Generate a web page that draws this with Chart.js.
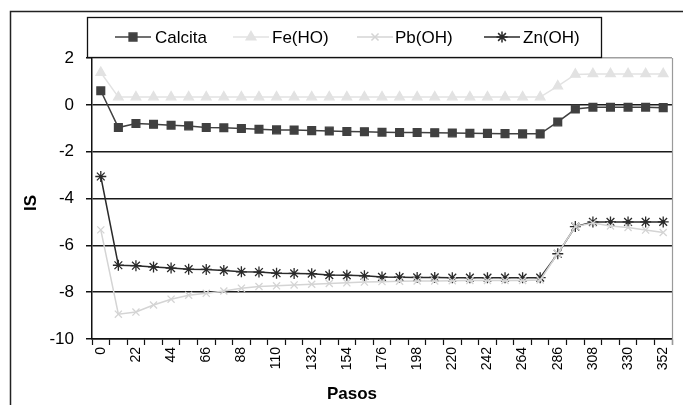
<!DOCTYPE html>
<html>
<head>
<meta charset="utf-8">
<script src="https://cdn.jsdelivr.net/npm/chart.js@4.4.0/dist/chart.umd.min.js"></script>
<style>
  html, body { margin: 0; padding: 0; background: #fff; }
  #isChart { display: block; }
</style>
</head>
<body>
<canvas id="isChart" width="683" height="405"></canvas>
<script>
// Pasos (0 .. 352, cada 11)
const pasos = [0, 11, 22, 33, 44, 55, 66, 77, 88, 99, 110, 121, 132, 143, 154, 165, 176,
               187, 198, 209, 220, 231, 242, 253, 264, 275, 286, 297, 308, 319, 330, 341, 352];

const calcita = [0.6, -0.97, -0.8, -0.83, -0.87, -0.9, -0.97, -0.98, -1.01, -1.04, -1.07,
                 -1.08, -1.1, -1.12, -1.14, -1.15, -1.17, -1.18, -1.18, -1.19, -1.2, -1.21,
                 -1.22, -1.23, -1.24, -1.24, -0.73, -0.18, -0.1, -0.1, -0.1, -0.1, -0.12];

const feHO = [1.38, 0.33, 0.33, 0.33, 0.33, 0.33, 0.33, 0.33, 0.33, 0.33, 0.33,
              0.33, 0.33, 0.33, 0.33, 0.33, 0.33, 0.33, 0.33, 0.33, 0.33, 0.33,
              0.33, 0.33, 0.33, 0.33, 0.8, 1.3, 1.32, 1.32, 1.32, 1.32, 1.32];

const pbOH = [-5.34, -8.94, -8.85, -8.55, -8.3, -8.13, -8.05, -7.95, -7.83, -7.76, -7.73,
              -7.69, -7.66, -7.63, -7.6, -7.57, -7.55, -7.53, -7.52, -7.52, -7.51, -7.5,
              -7.5, -7.5, -7.5, -7.48, -6.35, -5.2, -5.05, -5.17, -5.24, -5.35, -5.45];

const znOH = [-3.06, -6.85, -6.87, -6.92, -6.97, -7.02, -7.03, -7.07, -7.13, -7.14, -7.19,
              -7.2, -7.21, -7.27, -7.28, -7.3, -7.35, -7.36, -7.37, -7.37, -7.38, -7.38,
              -7.38, -7.38, -7.38, -7.38, -6.36, -5.2, -5.0, -5.0, -5.0, -5.0, -5.0];

const FONT = '"Liberation Sans", Arial, sans-serif';

const series = [
    { label: 'Calcita', data: calcita, color: '#404040', style: 'rect', radius: 5.5, lx: 115, tx: 155 },
    { label: 'Fe(HO)',  data: feHO,    color: '#e2e2e2', style: 'triangle', radius: 5.5, lx: 233, tx: 272 },
    { label: 'Pb(OH)',  data: pbOH,    color: '#d4d4d4', style: 'crossRot', radius: 5, lx: 357, tx: 395 },
    { label: 'Zn(OH)',  data: znOH,    color: '#2a2a2a', style: 'star', radius: 5.5, lx: 484, tx: 523 }
];

// marco exterior, borde derecho del area, titulos de ejes y leyenda
const framePlugin = {
    id: 'framePlugin',
    afterDraw(chart) {
        const ctx = chart.ctx;
        const area = chart.chartArea;
        ctx.save();

        // borde gris derecho
        ctx.strokeStyle = '#9a9a9a';
        ctx.lineWidth = 1.2;
        ctx.beginPath();
        ctx.moveTo(area.right + 0.5, area.top);
        ctx.lineTo(area.right + 0.5, area.bottom + 6);
        ctx.stroke();

        // marco exterior
        ctx.strokeStyle = '#222';
        ctx.lineWidth = 1.5;
        ctx.beginPath();
        ctx.moveTo(10.5, 405);
        ctx.lineTo(10.5, 11.5);
        ctx.lineTo(683, 11.5);
        ctx.stroke();

        // titulos
        ctx.fillStyle = '#000';
        ctx.font = 'bold 17px ' + FONT;
        ctx.textAlign = 'center';
        ctx.textBaseline = 'middle';
        ctx.fillText('Pasos', 352, 394);
        ctx.save();
        ctx.translate(31, 203);
        ctx.rotate(-Math.PI / 2);
        ctx.fillText('IS', 0, 0);
        ctx.restore();

        // leyenda
        const lg = { x: 87.5, y: 17.5, w: 514, h: 40 };
        ctx.fillStyle = '#fff';
        ctx.fillRect(lg.x, lg.y, lg.w, lg.h);
        ctx.strokeStyle = '#111';
        ctx.lineWidth = 1.3;
        ctx.strokeRect(lg.x, lg.y, lg.w, lg.h);

        const cy = 37;
        series.forEach(s => {
            ctx.strokeStyle = s.color;
            ctx.fillStyle = s.color;
            ctx.lineWidth = 1.5;
            ctx.beginPath();
            ctx.moveTo(s.lx, cy);
            ctx.lineTo(s.lx + 36, cy);
            ctx.stroke();
            Chart.helpers.drawPoint(ctx, {
                pointStyle: s.style, radius: s.radius, rotation: 0, borderWidth: 1.3
            }, s.lx + 18, cy);
            ctx.fillStyle = '#000';
            ctx.font = '17px ' + FONT;
            ctx.textAlign = 'left';
            ctx.textBaseline = 'middle';
            ctx.fillText(s.label, s.tx, cy + 1);
        });

        ctx.restore();
    }
};

const datasets = series.map(s => ({
    label: s.label,
    data: s.data,
    borderColor: s.color,
    backgroundColor: s.color,
    borderWidth: 1.5,
    pointStyle: s.style,
    pointRadius: s.radius,
    pointBorderWidth: 1.3,
    pointBackgroundColor: s.color,
    pointBorderColor: s.color,
    tension: 0
}));

new Chart(document.getElementById('isChart').getContext('2d'), {
    type: 'line',
    data: { labels: pasos, datasets: datasets },
    options: {
        responsive: false,
        animation: false,
        devicePixelRatio: 1,
        layout: { padding: { top: 58, right: 11, left: 0, bottom: 0 } },
        plugins: {
            legend: { display: false },
            tooltip: { enabled: false }
        },
        scales: {
            x: {
                type: 'category',
                offset: true,
                afterFit: scale => { scale.height = 66; },
                border: { display: true, color: '#111', width: 1.5 },
                grid: {
                    offset: true,
                    drawOnChartArea: false,
                    drawTicks: true,
                    tickLength: 6,
                    tickColor: '#111',
                    tickWidth: 1.2
                },
                ticks: {
                    autoSkip: false,
                    maxRotation: 90,
                    minRotation: 90,
                    padding: 2,
                    color: '#000',
                    font: { family: FONT, size: 14 },
                    callback: function (val, idx) {
                        return idx % 2 === 0 ? this.getLabelForValue(val) : '';
                    }
                }
            },
            y: {
                min: -10,
                max: 2,
                afterFit: scale => { scale.width = 92; },
                border: { display: true, color: '#111', width: 1.5 },
                grid: {
                    color: c => (c.tick && c.tick.value === 2) ? '#a0a0a0' : '#1a1a1a',
                    lineWidth: 1.5,
                    drawTicks: true,
                    tickLength: 6,
                    tickColor: '#111'
                },
                ticks: {
                    stepSize: 2,
                    padding: 12,
                    color: '#000',
                    font: { family: FONT, size: 17 }
                }
            }
        }
    },
    plugins: [framePlugin]
});
</script>
</body>
</html>
